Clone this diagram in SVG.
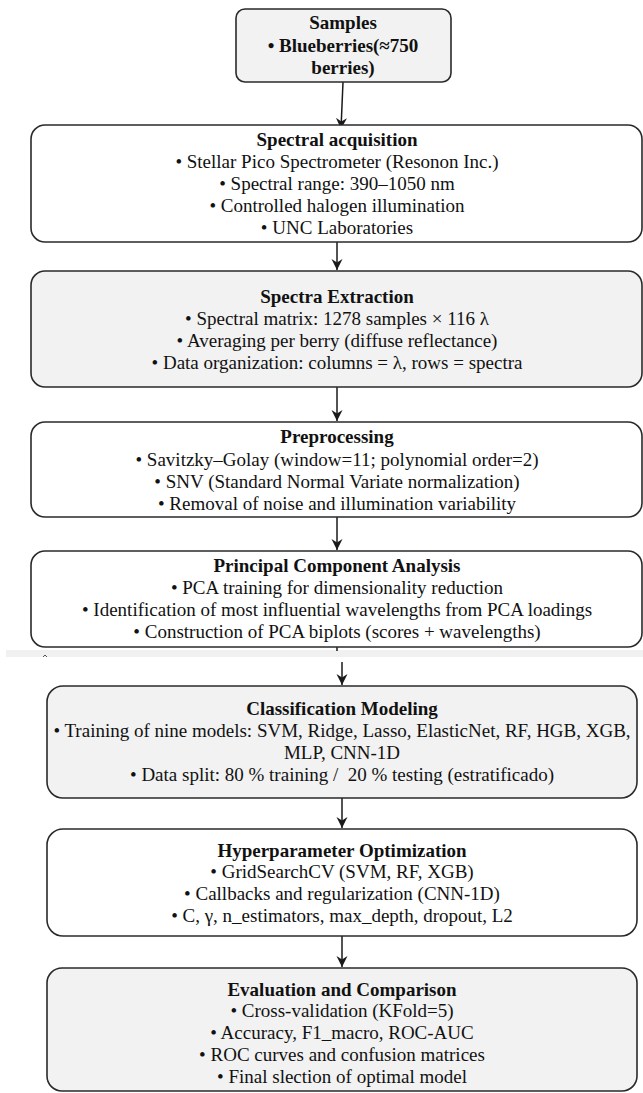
<svg xmlns="http://www.w3.org/2000/svg" width="643" height="1093" viewBox="0 0 643 1093">
<defs>
<style>
.box{stroke:#2a2a2a;stroke-width:1.6}
.gray{fill:#f2f2f2}
.white{fill:#ffffff}
text{font-family:"Liberation Serif","Times New Roman",serif;font-size:19px;fill:#111;text-anchor:middle}
.t{font-weight:bold}
.conn{stroke:#1a1a1a;stroke-width:1.5;fill:none;marker-end:url(#ah)}
</style>
<marker id="ah" viewBox="0 0 12 12" markerWidth="12" markerHeight="12" refX="11" refY="6" orient="auto" markerUnits="userSpaceOnUse">
<path d="M0,0.5 L11,6 L0,11.5 L3.5,6 z" fill="#1a1a1a"/>
</marker>
</defs>
<rect width="643" height="1093" fill="#ffffff"/>

<g id="band">
<rect x="6" y="650" width="637" height="7" fill="#f1f1f1"/>
<path d="M43,657 L45,655 L47,657" stroke="#555" stroke-width="1" fill="none"/>
</g>

<g id="connectors">
<path class="conn" d="M343,82 L341,129"/>
<path class="conn" d="M337,242 L337,270"/>
<path class="conn" d="M337,387 L337,421"/>
<path class="conn" d="M337,517 L337,550"/>
<path d="M337,647 L337,651" stroke="#1a1a1a" stroke-width="1.5"/>
<path class="conn" d="M342,662 L342,685"/>
<path class="conn" d="M342,798 L342,828"/>
<path class="conn" d="M342,936 L342,967"/>
</g>

<g id="samples">
<rect class="box gray" x="236" y="9" width="215" height="73" rx="9"/>
<text class="t" x="343" y="29">Samples</text>
<text class="t" x="343" y="52">• Blueberries(≈750</text>
<text class="t" x="343" y="74">berries)</text>
</g>

<g id="acquisition">
<rect class="box white" x="31" y="125" width="611" height="117" rx="14"/>
<text class="t" x="337" y="146">Spectral acquisition</text>
<text x="337" y="168">• Stellar Pico Spectrometer (Resonon Inc.)</text>
<text x="337" y="190">• Spectral range: 390–1050 nm</text>
<text x="337" y="212">• Controlled halogen illumination</text>
<text x="337" y="234">• UNC Laboratories</text>
</g>

<g id="extraction">
<rect class="box gray" x="31" y="271" width="611" height="116" rx="14"/>
<text class="t" x="337" y="303">Spectra Extraction</text>
<text x="337" y="325">• Spectral matrix: 1278 samples × 116 λ</text>
<text x="337" y="347">• Averaging per berry (diffuse reflectance)</text>
<text x="337" y="369">• Data organization: columns = λ, rows = spectra</text>
</g>

<g id="preprocessing">
<rect class="box white" x="31" y="422" width="611" height="95" rx="14"/>
<text class="t" x="337" y="443">Preprocessing</text>
<text x="337" y="466">• Savitzky–Golay (window=11; polynomial order=2)</text>
<text x="337" y="488">• SNV (Standard Normal Variate normalization)</text>
<text x="337" y="510">• Removal of noise and illumination variability</text>
</g>

<g id="pca">
<rect class="box white" x="31" y="551" width="611" height="96" rx="14"/>
<text class="t" x="337" y="572">Principal Component Analysis</text>
<text x="337" y="594">• PCA training for dimensionality reduction</text>
<text x="337" y="616">• Identification of most influential wavelengths from PCA loadings</text>
<text x="337" y="638">• Construction of PCA biplots (scores + wavelengths)</text>
</g>

<g id="classification">
<rect class="box gray" x="47" y="686" width="590" height="112" rx="16"/>
<text class="t" x="342" y="715">Classification Modeling</text>
<text x="342" y="737">• Training of nine models: SVM, Ridge, Lasso, ElasticNet, RF, HGB, XGB,</text>
<text x="342" y="759">MLP, CNN-1D</text>
<text x="342" y="781" xml:space="preserve">• Data split: 80 % training /  20 % testing (estratificado)</text>
</g>

<g id="hyperparameter">
<rect class="box white" x="47" y="829" width="590" height="107" rx="16"/>
<text class="t" x="342" y="857">Hyperparameter Optimization</text>
<text x="342" y="878">• GridSearchCV (SVM, RF, XGB)</text>
<text x="342" y="900">• Callbacks and regularization (CNN-1D)</text>
<text x="342" y="922">• C, γ, n_estimators, max_depth, dropout, L2</text>
</g>

<g id="evaluation">
<rect class="box gray" x="47" y="968" width="590" height="123" rx="15"/>
<text class="t" x="342" y="996">Evaluation and Comparison</text>
<text x="342" y="1017">• Cross-validation (KFold=5)</text>
<text x="342" y="1039">• Accuracy, F1_macro, ROC-AUC</text>
<text x="342" y="1061">• ROC curves and confusion matrices</text>
<text x="342" y="1083">• Final slection of optimal model</text>
</g>
</svg>
